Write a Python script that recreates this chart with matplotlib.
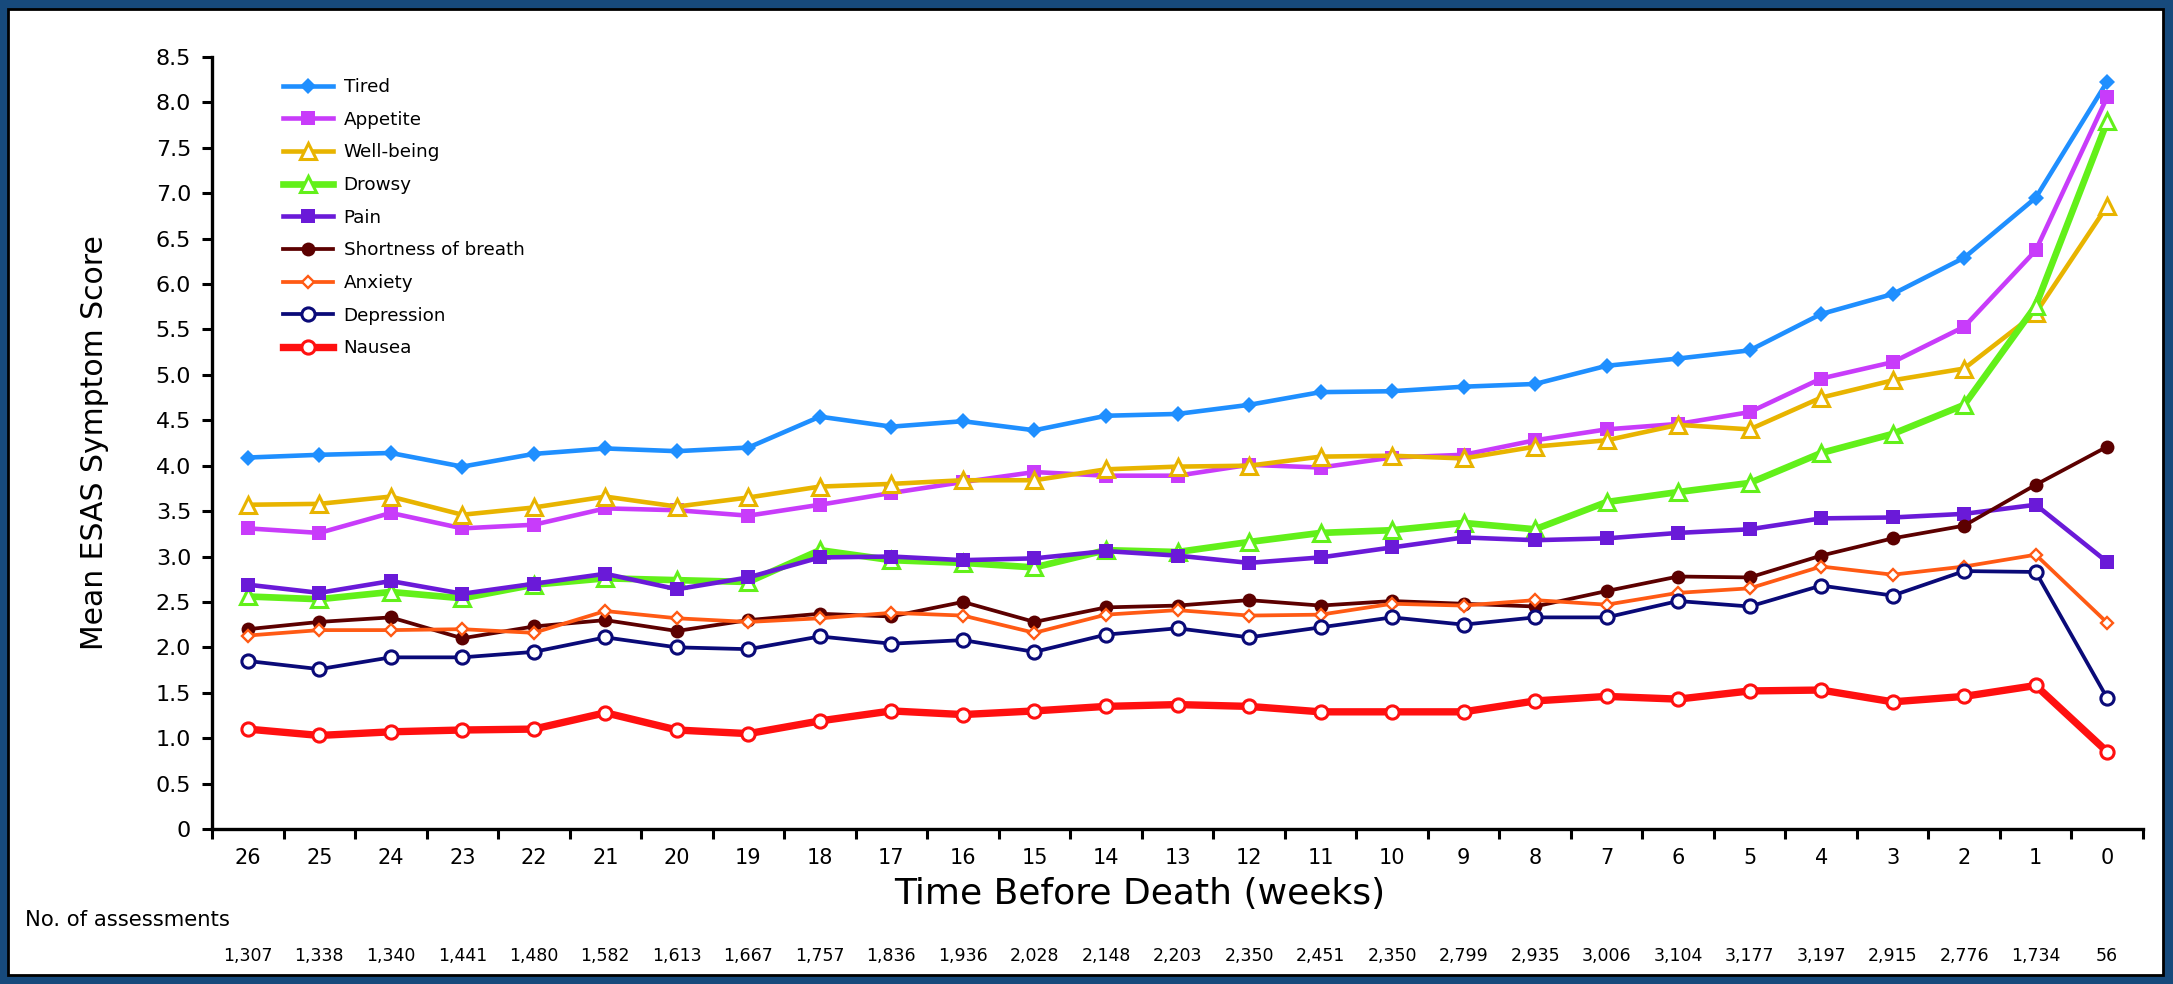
import matplotlib
matplotlib.use("Agg")
import matplotlib.pyplot as plt
import matplotlib.transforms as mtransforms
from matplotlib.patches import Rectangle
import numpy as np

plt.rcParams['font.family'] = ['DejaVu Sans']

weeks = [26, 25, 24, 23, 22, 21, 20, 19, 18, 17, 16, 15, 14, 13, 12, 11, 10, 9, 8, 7, 6, 5, 4, 3, 2, 1, 0]
assessments = ["1,307", "1,338", "1,340", "1,441", "1,480", "1,582", "1,613", "1,667", "1,757", "1,836",
               "1,936", "2,028", "2,148", "2,203", "2,350", "2,451", "2,350", "2,799", "2,935", "3,006",
               "3,104", "3,177", "3,197", "2,915", "2,776", "1,734", "56"]

tired = [4.09, 4.12, 4.14, 3.99, 4.13, 4.19, 4.16, 4.20, 4.54, 4.43, 4.49, 4.39, 4.55, 4.57, 4.67, 4.81, 4.82, 4.87, 4.90,
         5.10, 5.18, 5.27, 5.67, 5.89, 6.29, 6.95, 8.23]
appetite = [3.31, 3.26, 3.48, 3.31, 3.35, 3.53, 3.51, 3.45, 3.57, 3.70, 3.82, 3.93, 3.89, 3.89, 4.01, 3.98, 4.09, 4.12, 4.28,
            4.40, 4.46, 4.59, 4.96, 5.14, 5.53, 6.37, 8.06]
wellbeing = [3.57, 3.58, 3.66, 3.46, 3.54, 3.66, 3.55, 3.65, 3.77, 3.80, 3.84, 3.84, 3.96, 3.99, 4.00, 4.10, 4.11, 4.08, 4.21,
             4.28, 4.45, 4.40, 4.75, 4.94, 5.07, 5.68, 6.86]
drowsy = [2.56, 2.53, 2.61, 2.54, 2.69, 2.76, 2.74, 2.72, 3.07, 2.96, 2.93, 2.88, 3.07, 3.05, 3.16, 3.26, 3.29, 3.37, 3.30,
          3.60, 3.71, 3.81, 4.14, 4.35, 4.67, 5.76, 7.79]
pain = [2.69, 2.60, 2.73, 2.59, 2.70, 2.81, 2.64, 2.77, 2.99, 3.00, 2.96, 2.98, 3.06, 3.01, 2.93, 2.99, 3.10, 3.21, 3.18,
        3.20, 3.26, 3.30, 3.42, 3.43, 3.47, 3.57, 2.94]
sob = [2.20, 2.28, 2.33, 2.10, 2.23, 2.30, 2.18, 2.30, 2.37, 2.34, 2.50, 2.28, 2.44, 2.46, 2.52, 2.46, 2.51, 2.48, 2.45,
       2.62, 2.78, 2.77, 3.01, 3.20, 3.34, 3.79, 4.21]
anxiety = [2.13, 2.19, 2.19, 2.20, 2.16, 2.40, 2.32, 2.28, 2.32, 2.38, 2.35, 2.16, 2.36, 2.41, 2.35, 2.36, 2.48, 2.46, 2.52,
           2.47, 2.60, 2.65, 2.89, 2.80, 2.89, 3.02, 2.27]
depression = [1.85, 1.76, 1.89, 1.89, 1.95, 2.11, 2.00, 1.98, 2.12, 2.04, 2.08, 1.95, 2.14, 2.21, 2.11, 2.22, 2.33, 2.25, 2.33,
              2.33, 2.51, 2.45, 2.68, 2.57, 2.84, 2.83, 1.44]
nausea = [1.10, 1.03, 1.07, 1.09, 1.10, 1.28, 1.09, 1.05, 1.19, 1.30, 1.26, 1.30, 1.35, 1.37, 1.35, 1.29, 1.29, 1.29, 1.41,
          1.46, 1.43, 1.52, 1.53, 1.40, 1.46, 1.58, 0.85]

yticks = [0, 0.5, 1.0, 1.5, 2.0, 2.5, 3.0, 3.5, 4.0, 4.5, 5.0, 5.5, 6.0, 6.5, 7.0, 7.5, 8.0, 8.5]
ytick_labels = ["0", "0.5", "1.0", "1.5", "2.0", "2.5", "3.0", "3.5", "4.0", "4.5", "5.0", "5.5", "6.0",
                "6.5", "7.0", "7.5", "8.0", "8.5"]

series = [
    ("Tired", tired, dict(color="#1F8FFF", lw=3.3, marker="D", ms=8.5, mfc="#1F8FFF", mew=0)),
    ("Appetite", appetite, dict(color="#C83CFA", lw=3.3, marker="s", ms=10.5, mfc="#C83CFA", mew=0)),
    ("Well-being", wellbeing, dict(color="#E8B400", lw=3.3, marker="^", ms=11, mfc="white", mew=2.2)),
    ("Drowsy", drowsy, dict(color="#62F01A", lw=4.8, marker="^", ms=11, mfc="white", mew=2.2)),
    ("Pain", pain, dict(color="#6A1AD8", lw=3.3, marker="s", ms=10.5, mfc="#6A1AD8", mew=0)),
    ("Shortness of breath", sob, dict(color="#5C0000", lw=2.7, marker="o", ms=10, mfc="#5C0000", mew=0)),
    ("Anxiety", anxiety, dict(color="#FF5A14", lw=2.7, marker="D", ms=6.5, mfc="white", mew=1.7)),
    ("Depression", depression, dict(color="#0A0A78", lw=2.7, marker="o", ms=9.5, mfc="white", mew=2.2)),
    ("Nausea", nausea, dict(color="#FF1010", lw=5.3, marker="o", ms=9.5, mfc="white", mew=2.2)),
]

W, H = 2173, 984
fig = plt.figure(figsize=(W / 100, H / 100), dpi=100)
fig.patch.set_facecolor("#174A7C")
fig.patches.append(Rectangle((8 / W, 1 - 975 / H), (2163 - 8) / W, (975 - 9) / H,
                             transform=fig.transFigure, facecolor="white", edgecolor="black",
                             linewidth=2.0, zorder=-10))

left, right, top, bottom = 212, 2143, 57, 829
ax = fig.add_axes([left / W, 1 - bottom / H, (right - left) / W, (bottom - top) / H])
ax.set_facecolor("none")
ax.set_zorder(5)

xpos = np.arange(len(weeks))
for name, vals, st in series:
    ax.plot(xpos, vals, label=name, color=st["color"], lw=st["lw"], marker=st["marker"],
            ms=st["ms"], mfc=st["mfc"], mec=st["color"], mew=st["mew"], solid_joinstyle="round",
            clip_on=False)

ax.set_xlim(-0.5, len(weeks) - 0.5)
ax.set_ylim(0, 8.5)
ax.set_yticks(yticks)
ax.set_yticklabels(ytick_labels, fontsize=16)
ax.set_xticks(xpos)
ax.set_xticklabels([str(w) for w in weeks], fontsize=15)
ax.set_xticks(np.arange(-0.5, len(weeks), 1.0), minor=True)
ax.tick_params(axis="x", which="major", length=0, pad=14)
ax.tick_params(axis="x", which="minor", length=7, width=2.2, direction="out")
ax.tick_params(axis="y", which="major", length=7, width=2.2, direction="out", pad=8)
for s in ["top", "right"]:
    ax.spines[s].set_visible(False)
for s in ["left", "bottom"]:
    ax.spines[s].set_linewidth(2.4)

leg = ax.legend(loc="upper left", bbox_to_anchor=(283 / W, 1 - 78 / H), bbox_transform=fig.transFigure,
                frameon=False, fontsize=13.2, numpoints=1, handlelength=2.75, handletextpad=0.55,
                labelspacing=0.8, borderaxespad=0, borderpad=0)

fig.text(1140 / W, 1 - 894 / H, "Time Before Death (weeks)", fontsize=26, ha="center", va="center")
fig.text(95 / W, 1 - 443 / H, "Mean ESAS Symptom Score", fontsize=21.5, rotation=90, ha="center", va="center")
fig.text(25 / W, 1 - 920 / H, "No. of assessments", fontsize=15.2, ha="left", va="center")

trans = mtransforms.blended_transform_factory(ax.transData, fig.transFigure)
for xi, lab in zip(xpos, assessments):
    ax.text(xi, 1 - 956 / H, lab, transform=trans, fontsize=12.5, ha="center", va="center", clip_on=False)

fig.savefig("out.png", dpi=100, facecolor=fig.get_facecolor())
